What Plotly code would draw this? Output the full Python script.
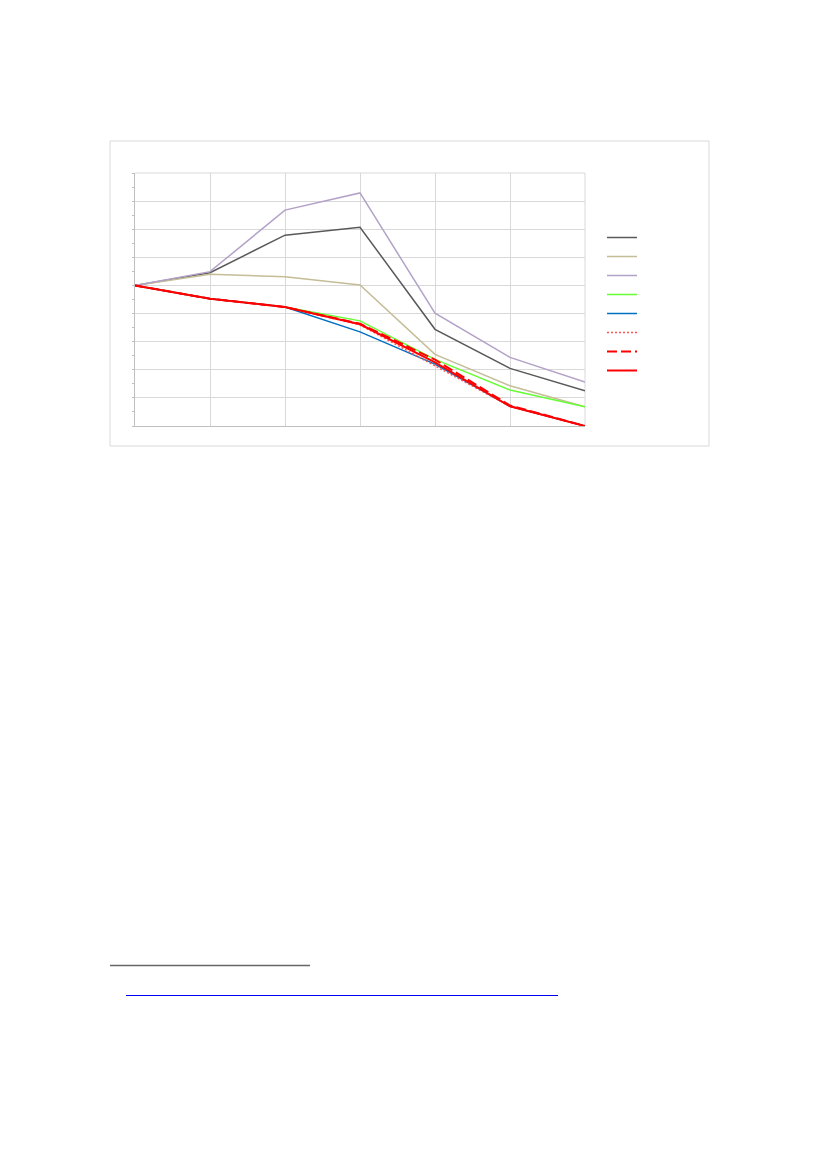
import plotly.graph_objects as go

# positions along the x axis (category labels are not shown in the source)
periods = [0, 1, 2, 3, 4, 5, 6]

grey_series = [50, 54.5, 67.9, 70.7, 34.4, 20.5, 12.5]
tan_series = [50, 54.0, 53.1, 50.2, 25.5, 14.3, 6.8]
lavender_series = [50, 54.9, 76.8, 82.9, 40.1, 24.4, 15.6]
green_series = [50, 45.3, 42.3, 37.4, 23.7, 12.8, 6.8]
blue_series = [50, 45.3, 42.3, 33.5, 22.0, 7.0, 0]
red_dotted_series = [50, 45.3, 42.3, 36.0, 21.4, 7.0, 0]
red_dashed_series = [50, 45.3, 42.3, 36.4, 23.6, 7.3, 0]
red_solid_series = [50, 45.3, 42.3, 36.2, 22.6, 7.0, 0]

W, H = 827, 1169
# plot area in page pixels
L, R, T, B = 135, 585, 173, 426


def px_x(p):
    return (p - L) / (R - L)


def px_y(p):
    return (B - p) / (B - T)


def add_page_line(fig, x0, x1, y0, y1, color, width, layer="above"):
    fig.add_shape(
        type="line",
        xref="paper",
        yref="paper",
        x0=x0,
        x1=x1,
        y0=y0,
        y1=y1,
        line=dict(color=color, width=width),
        layer=layer,
    )


def main():
    fig = go.Figure()
    styles = [
        (grey_series, "#595959", 1.5, "solid"),
        (tan_series, "#C4BD97", 1.5, "solid"),
        (lavender_series, "#B3A2C7", 1.5, "solid"),
        (green_series, "#66FF33", 1.5, "solid"),
        (blue_series, "#0070C0", 1.5, "solid"),
        (red_dotted_series, "#FF5050", 1.5, "2px,2px"),
        (red_dashed_series, "#FF0000", 2, "10px,4px"),
        (red_solid_series, "#FF0000", 2, "solid"),
    ]
    for values, color, width, dash in styles:
        fig.add_scatter(
            x=periods,
            y=values,
            mode="lines",
            name="",
            line=dict(color=color, width=width, dash=dash),
            hoverinfo="skip",
        )

    fig.update_xaxes(
        range=[0, 6],
        dtick=1,
        showgrid=True,
        gridcolor="#D9D9D9",
        gridwidth=1,
        showline=True,
        linecolor="#BFBFBF",
        zeroline=False,
        showticklabels=False,
        ticks="",
    )
    fig.update_yaxes(
        range=[0, 90],
        dtick=10,
        showgrid=True,
        gridcolor="#D9D9D9",
        gridwidth=1,
        showline=True,
        linecolor="#BFBFBF",
        zeroline=False,
        showticklabels=False,
        ticks="outside",
        ticklen=2,
        tickcolor="#BFBFBF",
        minor=dict(ticks="outside", dtick=5, ticklen=2, tickcolor="#BFBFBF", showgrid=False),
    )

    # top and right grid edges (plotly drops grid lines at the range ends)
    add_page_line(fig, 0, 1, 1, 1, "#D9D9D9", 1, "below")
    add_page_line(fig, 1, 1, 0, 1, "#D9D9D9", 1, "below")

    # chart frame
    fig.add_shape(
        type="rect",
        xref="paper",
        yref="paper",
        x0=px_x(110),
        x1=px_x(709),
        y0=px_y(446),
        y1=px_y(141),
        line=dict(color="#D9D9D9", width=1),
        layer="below",
    )
    # footnote separator and link underline on the page
    add_page_line(fig, px_x(110), px_x(310), px_y(965.5), px_y(965.5), "#666666", 1.5)
    add_page_line(fig, px_x(126), px_x(558), px_y(995.5), px_y(995.5), "#0000EE", 1)

    fig.update_layout(
        width=W,
        height=H,
        template="plotly_white",
        plot_bgcolor="white",
        paper_bgcolor="white",
        margin=dict(l=L, r=W - R, t=T, b=H - B, pad=0),
        font=dict(family="Liberation Sans", size=10),
        showlegend=True,
        legend=dict(
            x=px_x(602),
            xanchor="left",
            y=px_y(304),
            yanchor="middle",
            bgcolor="rgba(0,0,0,0)",
            font=dict(size=9),
        ),
    )
    fig.write_html(
        "out.html",
        config={"displayModeBar": False},
        post_script="document.body.style.margin='0';",
    )


if __name__ == "__main__":
    main()
